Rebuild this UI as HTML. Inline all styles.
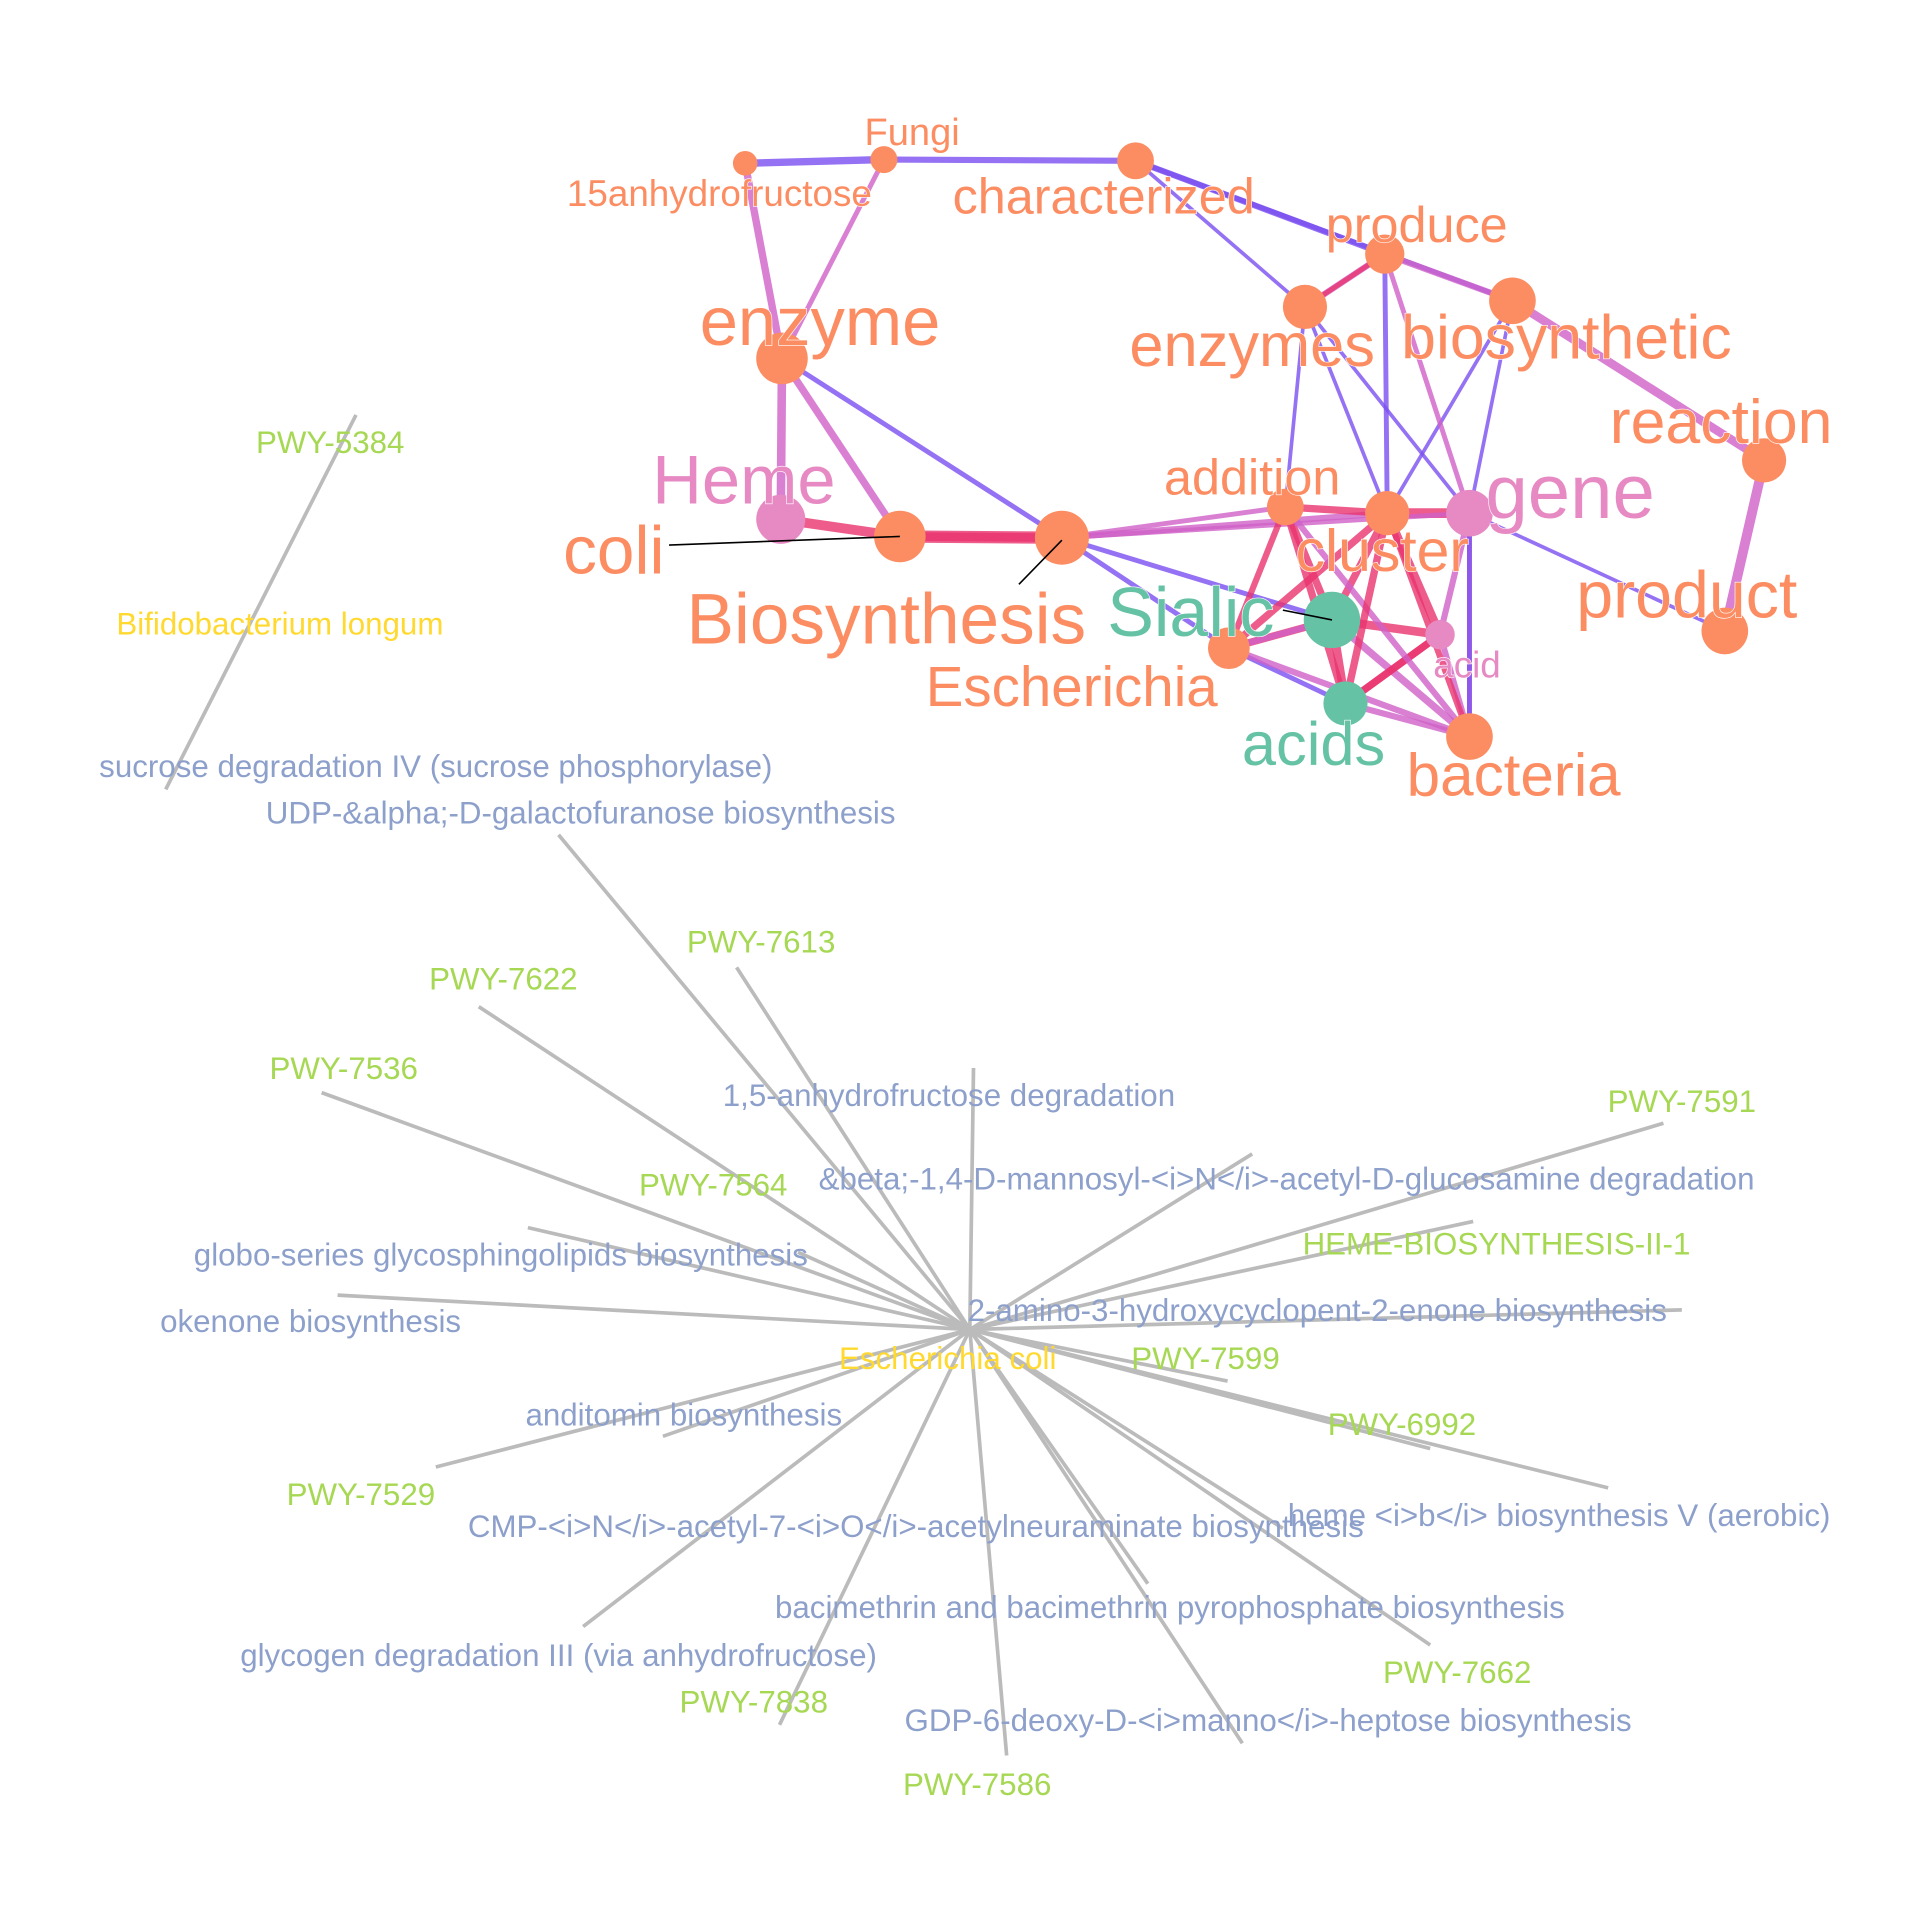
<!DOCTYPE html>
<html><head><meta charset="utf-8"><style>
html,body{margin:0;padding:0;background:#fff}
svg{display:block}
text{font-family:"Liberation Sans",Arial,sans-serif}
</style></head><body>
<svg id="chart" width="1920" height="1920" viewBox="0 0 1564 1564" xmlns="http://www.w3.org/2000/svg">
<rect width="1564" height="1564" fill="#fff"/>
<g id="edges"></g><g id="nodes"></g><g id="labels"></g>
</svg>
<script>
// word network nodes
const wordNames=["15anhydrofructose","Fungi","characterized","produce","enzymes","biosynthetic","enzyme","reaction","Heme","coli","Biosynthesis","addition","cluster","gene","Sialic","acid","product","Escherichia","acids","bacteria"];
const wordX=[607,720,925,1128,1063,1232,637,1437,636,733,865,1047,1130,1197,1085,1173,1405,1001,1096,1197];
const wordY=[133,130,131,207,250,245,292,375,423,437,438,413,418,418,505,517,514,528,573,600];
const wordR=[10,11,15,16,18,19,21,18,20,21,22,15,18,19,23,12,19,17,18,19];
const wordGroup=[0,0,0,0,0,0,0,0,1,0,0,0,0,1,2,1,0,0,2,0];
const labelX=[586,743,899,1154,1020,1276,668,1402,606,500,722,1020,1126,1279,970,1195,1374,873,1070,1233];
const labelY=[168,118,174,197,298,292,281,361,410,467,524,403,465,422,518,552,503,575,623,648];
const labelSize=[30,31,41,41,50,51,56,51,56,55,58,41,48,62,57,30,54,46,50,49];
const groupColor=["#fc8d62","#e78ac3","#66c2a5"];
// edges
const edgeFrom=[0,1,1,2,2,2,0,6,6,6,9,8,9,10,10,10,4,4,4,3,3,3,5,5,5,7,11,11,12,12,12,13,13,13,14,14,14,14,15,15,17,17,18,18,12,10,10,13,11,11,11,12,12,17,3,4];
const edgeTo=[1,2,6,3,4,5,6,8,9,10,10,9,10,12,14,17,3,11,13,5,12,4,7,12,13,16,12,14,13,14,15,15,16,19,15,17,18,19,18,19,18,14,19,15,17,11,13,19,17,18,19,18,19,19,13,12];
const edgeColor=[0,0,1,0,0,0,1,1,1,0,2,2,2,1,0,0,1,0,0,1,0,2,1,0,0,1,2,2,2,2,2,1,0,1,2,2,2,1,2,1,0,1,1,2,2,1,1,0,2,2,1,2,2,1,1,0];
const edgeW=[6,5,4,5,3,4,6,7,6,4,10,8,7,5,4,4,5,3,3,5,4,4,7,3,3,8,6,6,8,6,7,5,3,4,7,6,7,6,6,5,4,5,5,6,6,4,4,4,5,6,5,6,5,5,4,3];
const edgePalette=["#7b4ff0","#d060c8","#e8336e"];

// star network (Escherichia coli)
const starCenter=[790,1083];
const starNames=["UDP-&alpha;-D-galactofuranose biosynthesis","PWY-7613","PWY-7622","PWY-7536","1,5-anhydrofructose degradation","&beta;-1,4-D-mannosyl-<i>N</i>-acetyl-D-glucosamine degradation","PWY-7591","HEME-BIOSYNTHESIS-II-1","PWY-7564","globo-series glycosphingolipids biosynthesis","okenone biosynthesis","2-amino-3-hydroxycyclopent-2-enone biosynthesis","PWY-7599","PWY-6992","heme <i>b</i> biosynthesis V (aerobic)","anditomin biosynthesis","PWY-7529","CMP-<i>N</i>-acetyl-7-<i>O</i>-acetylneuraminate biosynthesis","glycogen degradation III (via anhydrofructose)","PWY-7662","bacimethrin and bacimethrin pyrophosphate biosynthesis","PWY-7838","PWY-7586","GDP-6-deoxy-D-<i>manno</i>-heptose biosynthesis"];
const starEndX=[455,600,390,262,793,1020,1355,1200,650,430,275,1370,1000,1165,1310,540,355,1045,475,1165,935,635,820,1012];
const starEndY=[680,788,820,890,870,940,915,995,1020,1000,1055,1067,1125,1180,1212,1170,1195,1245,1325,1340,1290,1405,1430,1420];
const starLabelX=[473,620,410,280,773,1048,1370,1219,581,408,253,1073,982,1142,1270,557,294,746,455,1187,953,614,796,1033];
const starLabelY=[671,776,806,879,901,969,906,1022,974,1031,1085,1076,1115,1169,1243,1161,1226,1252,1357,1371,1318,1395,1462,1410];
const starType=[0,1,1,1,0,0,1,1,1,0,0,0,1,1,0,0,1,0,0,1,0,1,1,0];
const typeColor=["#8da0cb","#a6d854"];

const NS="http://www.w3.org/2000/svg";
const gE=document.getElementById('edges'),gN=document.getElementById('nodes'),gL=document.getElementById('labels');
function mk(tag,attrs,parent){const e=document.createElementNS(NS,tag);for(const k in attrs)e.setAttribute(k,attrs[k]);parent.appendChild(e);return e;}
function txt(s,x,y,size,color,parent){const t=mk('text',{x:x,y:y,'font-size':size,fill:color,'text-anchor':'middle'},parent);t.textContent=s;return t;}

const bl=mk('line',{x1:290,y1:338,x2:135,y2:643,stroke:'#bbbbbb','stroke-width':3},gE);


[["PWY-5384",269,369,"#a6d854"],["Bifidobacterium longum",228,517,"#ffd92f"],["sucrose degradation IV (sucrose phosphorylase)",355,633,"#8da0cb"]].forEach(a=>{
  const t=txt(a[0],a[1],a[2],25.5,a[3],gL);
  
  
});

for(let i=0;i<starNames.length;i++){
  const l=mk('line',{x1:starCenter[0],y1:starCenter[1],x2:starEndX[i],y2:starEndY[i],stroke:'#bbbbbb','stroke-width':3},gE);
  
  
}
for(let i=0;i<starNames.length;i++){
  const t=txt(starNames[i],starLabelX[i],starLabelY[i],25.5,typeColor[starType[i]],gL);
  
  
}
const ec=txt("Escherichia coli",772,1115,25.5,"#ffd92f",gL);



for(let i=0;i<edgeFrom.length;i++){
  const a=edgeFrom[i],b=edgeTo[i];
  const l=mk('line',{x1:wordX[a],y1:wordY[a],x2:wordX[b],y2:wordY[b],stroke:edgePalette[edgeColor[i]],'stroke-width':edgeW[i],'stroke-opacity':0.8,'stroke-linecap':'round'},gE);
  
  
}
[[545,444,733,437],[830,476,865,440],[1045,497,1085,505]].forEach(p=>{
  const l=mk('line',{x1:p[0],y1:p[1],x2:p[2],y2:p[3],stroke:'#000','stroke-width':1.3},gL);
  
  
});
for(let i=0;i<wordNames.length;i++){
  const c=mk('circle',{cx:wordX[i],cy:wordY[i],r:wordR[i],fill:groupColor[wordGroup[i]]},gN);
  
  
}
for(let i=0;i<wordNames.length;i++){
  const t=txt(wordNames[i],labelX[i],labelY[i],labelSize[i],groupColor[wordGroup[i]],gL);
  t.setAttribute('stroke','#fff');t.setAttribute('stroke-width','1');t.setAttribute('paint-order','stroke');
  
  
}
</script>
</body></html>
